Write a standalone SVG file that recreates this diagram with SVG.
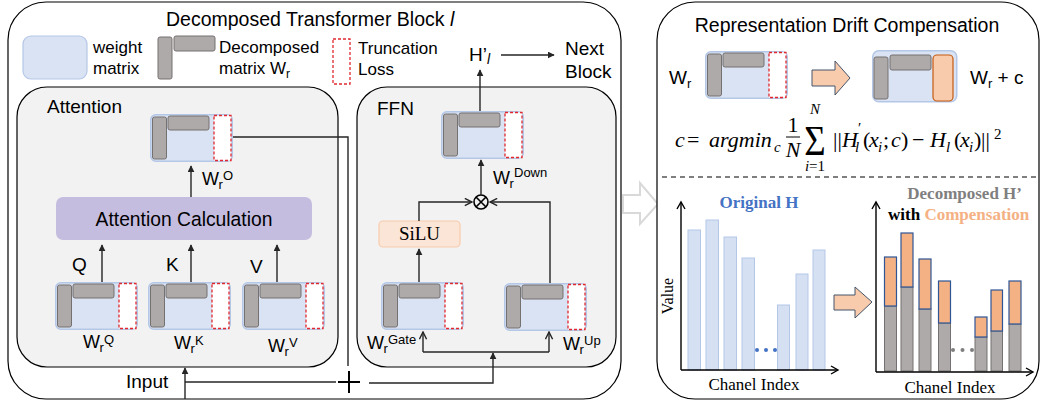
<svg xmlns="http://www.w3.org/2000/svg" width="1040" height="404" viewBox="0 0 1040 404">
<style>
.sans{font-family:"Liberation Sans",Arial,sans-serif;fill:#000}
.serif{font-family:"Liberation Serif","Times New Roman",serif;fill:#000}
.gray{fill:#aeaaaa;stroke:#767171;stroke-width:1}
.blk{fill:#fff;stroke:#000;stroke-width:1.2}
.inner{fill:#f2f2f2;stroke:#000;stroke-width:1.2}
.ln{fill:none;stroke:#262626;stroke-width:1.4}
.arr{marker-end:url(#ah)}
.oarr{marker-end:url(#oh)}
.bbar{fill:#d6e0f3;stroke:#b4c7e7;stroke-width:1}
.gbar{fill:#aeaaaa;stroke:#767171;stroke-width:1}
.obar{fill:#f4b183;stroke:#2f5597;stroke-width:1.2}
.fat{fill:#f8cbad;stroke:#44546a;stroke-width:1}
</style>
<defs>
<marker id="ah" viewBox="0 0 10 10" refX="9" refY="5" markerWidth="7" markerHeight="7" markerUnits="userSpaceOnUse" orient="auto">
<path d="M0,0 L10,5 L0,10 z" fill="#262626"/>
</marker>
<marker id="oh" viewBox="0 0 10 10" refX="9" refY="5" markerWidth="9" markerHeight="9" markerUnits="userSpaceOnUse" orient="auto">
<path d="M1,1 L9,5 L1,9" fill="none" stroke="#262626" stroke-width="1.6"/>
</marker>
<g id="mat">
<rect x="0.75" y="0.75" width="81.5" height="46.5" rx="5" fill="#dae3f3" stroke="#b4c7e7" stroke-width="1.5"/>
<rect x="2.5" y="3" width="14" height="42" rx="2" class="gray"/>
<rect x="18" y="2" width="41" height="14" rx="2" class="gray"/>
<rect x="64" y="1.5" width="17" height="45" fill="#fff" stroke="#e0282e" stroke-width="1.3" stroke-dasharray="3 2"/>
</g>
</defs>

<!-- faint arrow between panels -->
<path d="M623,195 H640 V183 L658,204 L640,224 V213 H623 Z" fill="#fff" stroke="#d9d9d9" stroke-width="2"/>

<g id="block">
<rect x="8" y="2" width="613" height="397" rx="38" class="blk"/>
<text class="sans" x="166" y="26" font-size="19.5">Decomposed Transformer Block <tspan font-style="italic">l</tspan></text>
</g>

<g id="legend">
<rect x="23" y="36" width="64" height="43" rx="8" fill="#dae3f3" stroke="#b4c7e7" stroke-width="1.2"/>
<text class="sans" x="93" y="53" font-size="17">weight</text>
<text class="sans" x="93" y="74" font-size="17">matrix</text>
<rect x="158" y="37" width="14" height="42" rx="2" class="gray"/>
<rect x="174" y="36" width="41" height="15" rx="2" class="gray"/>
<text class="sans" x="219" y="53" font-size="17">Decomposed</text>
<text class="sans" x="219" y="74" font-size="17">matrix W<tspan font-size="12" dy="4">r</tspan></text>
<rect x="333" y="39" width="17" height="45" fill="#fff" stroke="#e0282e" stroke-width="1.3" stroke-dasharray="3 2"/>
<text class="sans" x="358" y="54" font-size="17">Truncation</text>
<text class="sans" x="358" y="75" font-size="17">Loss</text>
</g>

<g id="attention">
<rect x="17" y="87" width="321" height="280" rx="30" class="inner"/>
<text class="sans" x="47" y="113" font-size="19">Attention</text>
</g>

<g id="ffn">
<rect x="357" y="87" width="259" height="280" rx="30" class="inner"/>
<text class="sans" x="377" y="115" font-size="19">FFN</text>
</g>

<g id="attn-calc">
<rect x="56" y="197" width="256" height="43" rx="7" fill="#c5bde0"/>
<text class="sans" x="184" y="226" font-size="19.3" text-anchor="middle">Attention Calculation</text>
</g>

<g id="wo"><use href="#mat" x="150" y="114"/>
<text class="sans" x="202" y="185" font-size="18">W<tspan font-size="13" x="218.5" y="189">r</tspan><tspan font-size="13" x="223" y="180">O</tspan></text></g>
<g id="wq"><use href="#mat" x="55" y="282"/>
<text class="sans" x="83" y="348" font-size="18">W<tspan font-size="13" x="99.5" y="352">r</tspan><tspan font-size="13" x="104" y="344">Q</tspan></text>
<text class="sans" x="72" y="271" font-size="19">Q</text></g>
<g id="wk"><use href="#mat" x="148" y="282"/>
<text class="sans" x="174" y="349" font-size="18">W<tspan font-size="13" x="190.5" y="353">r</tspan><tspan font-size="13" x="195" y="345">K</tspan></text>
<text class="sans" x="166" y="271" font-size="19">K</text></g>
<g id="wv"><use href="#mat" x="242" y="282"/>
<text class="sans" x="268" y="352" font-size="18">W<tspan font-size="13" x="284.5" y="356">r</tspan><tspan font-size="13" x="289" y="347">V</tspan></text>
<text class="sans" x="250" y="273" font-size="19">V</text></g>

<g id="wdown"><use href="#mat" x="441" y="111"/>
<text class="sans" x="493" y="184" font-size="18">W<tspan font-size="13" x="509.5" y="188">r</tspan><tspan font-size="13" x="514" y="177">Down</tspan></text></g>
<g id="wgate"><use href="#mat" x="381" y="282"/>
<text class="sans" x="367" y="349" font-size="18">W<tspan font-size="13" x="383.5" y="353">r</tspan><tspan font-size="13" x="388" y="344">Gate</tspan></text></g>
<g id="wup"><use href="#mat" x="504" y="283"/>
<text class="sans" x="563" y="350" font-size="18">W<tspan font-size="13" x="579.5" y="354">r</tspan><tspan font-size="13" x="584" y="345">Up</tspan></text></g>

<g id="silu">
<rect x="379" y="221" width="81" height="26" rx="4" fill="#fbe5d6" stroke="#f8cbad" stroke-width="1.2"/>
<text class="serif" x="419.5" y="240" font-size="19" text-anchor="middle">SiLU</text>
</g>

<g id="mult">
<circle cx="481" cy="202" r="7" fill="none" stroke="#000" stroke-width="1.6"/>
<path d="M476,197 L486,207 M486,197 L476,207" stroke="#000" stroke-width="1.6"/>
</g>

<g id="plus">
<path d="M338,382 H360 M349,371 V393" stroke="#000" stroke-width="2"/>
</g>

<g id="hout">
<text class="sans" x="469" y="61" font-size="19">H’<tspan font-style="italic" font-size="14" dy="3">l</tspan></text>
<text class="sans" x="565" y="55" font-size="19">Next</text>
<text class="sans" x="565" y="78" font-size="19">Block</text>
</g>

<g id="input">
<text class="sans" x="126" y="388" font-size="19">Input</text>
</g>

<g id="connectors">
<path class="ln" d="M233,137 H348 V366"/>
<path class="ln" d="M336,382 H185"/>
<path class="ln arr" d="M185,399 V368"/>
<path class="ln arr" d="M369,383 H493 V353"/>
<path class="ln" d="M423,352 H549"/>
<path class="ln oarr" d="M423,352 V332"/>
<path class="ln oarr" d="M549,352 V332"/>
<path class="ln arr" d="M102,282 V245"/>
<path class="ln arr" d="M191,282 V245"/>
<path class="ln arr" d="M277,282 V245"/>
<path class="ln arr" d="M191,197 V166"/>
<path class="ln arr" d="M419,282 V249"/>
<path class="ln oarr" d="M419,221 V202 H472"/>
<path class="ln oarr" d="M550,283 V202 H490"/>
<path class="ln arr" d="M481,195 V160"/>
<path class="ln arr" d="M480,111 V70"/>
<path class="ln arr" d="M501,55 H554"/>
</g>

<g id="drift-panel">
<rect x="657" y="2" width="382" height="397" rx="38" class="blk"/>
<text class="sans" x="847" y="32" font-size="19.5" text-anchor="middle">Representation Drift Compensation</text>
<line x1="662" y1="177" x2="1036" y2="177" stroke="#000" stroke-width="1.2" stroke-dasharray="5 4"/>
</g>

<g id="wr-before">
<text class="sans" x="669" y="84" font-size="19">W<tspan font-size="13" dy="4">r</tspan></text>
<use href="#mat" x="705" y="51"/>
</g>
<path class="fat" d="M812,70 H835 V61 L850,78 L835,95 V86 H812 Z"/>
<g id="wr-after">
<rect x="872.75" y="50.75" width="84" height="51" rx="6" fill="#dae3f3" stroke="#b4c7e7" stroke-width="1.5"/>
<rect x="874" y="57" width="14" height="42" rx="2" class="gray"/>
<rect x="890" y="55" width="41" height="15" rx="2" class="gray"/>
<rect x="933" y="55" width="20" height="46" rx="4" fill="#f8cbad" stroke="#c55a11" stroke-width="1.2"/>
<text class="sans" x="970" y="84" font-size="19">W<tspan font-size="13" dy="4">r</tspan><tspan dy="-4"> + c</tspan></text>
</g>

<g id="formula" class="serif" font-size="22">
<text font-style="italic"><tspan x="675" y="147">c</tspan><tspan x="687" y="147" font-style="normal">=</tspan><tspan x="709" y="147">argmin</tspan><tspan x="774" y="152" font-size="15">c</tspan></text>
<text x="793" y="132" text-anchor="middle">1</text>
<line x1="786" y1="137" x2="800" y2="137" stroke="#000" stroke-width="1"/>
<text x="793" y="157" text-anchor="middle" font-style="italic">N</text>
<text transform="translate(815 155) scale(1.15 1.3)" font-size="32" text-anchor="middle">Σ</text>
<text x="815" y="114" font-size="15" text-anchor="middle" font-style="italic">N</text>
<text x="815" y="171" font-size="15" text-anchor="middle"><tspan font-style="italic">i</tspan>=1</text>
<text><tspan x="833" y="147">||</tspan><tspan x="842" y="147" font-style="italic">H</tspan><tspan x="858" y="133" font-size="15">′</tspan><tspan x="855" y="152" font-size="15" font-style="italic">l</tspan><tspan x="863" y="147">(</tspan><tspan x="869" y="147" font-style="italic">x</tspan><tspan x="878" y="152" font-size="15" font-style="italic">i</tspan><tspan x="883" y="147">;</tspan><tspan x="891" y="147" font-style="italic">c</tspan><tspan x="901" y="147">)</tspan><tspan x="912" y="147">−</tspan><tspan x="930" y="147" font-style="italic">H</tspan><tspan x="946" y="152" font-size="15" font-style="italic">l</tspan><tspan x="954" y="147">(</tspan><tspan x="960" y="147" font-style="italic">x</tspan><tspan x="969" y="152" font-size="15" font-style="italic">i</tspan><tspan x="974" y="147">)</tspan><tspan x="981" y="147">||</tspan><tspan x="994" y="139" font-size="15">2</tspan></text>
</g>

<g id="chart-original">
<rect x="688" y="230" width="12.5" height="140" class="bbar"/>
<rect x="706" y="220" width="12.5" height="150" class="bbar"/>
<rect x="724" y="237" width="12.5" height="133" class="bbar"/>
<rect x="742" y="258" width="12.5" height="112" class="bbar"/>
<rect x="777.5" y="305" width="12" height="65" class="bbar"/>
<rect x="796" y="274" width="12" height="96" class="bbar"/>
<rect x="813" y="250" width="12" height="120" class="bbar"/>
<circle cx="757" cy="350" r="2" fill="#4472c4"/>
<circle cx="766" cy="350" r="2" fill="#4472c4"/>
<circle cx="775" cy="350" r="2" fill="#4472c4"/>
<path d="M681,370 V203 M681,370 H837" fill="none" stroke="#000" stroke-width="1.4"/>
<path d="M677,209 L681,202 L685,209 M831,366 L838,370 L831,374" fill="none" stroke="#000" stroke-width="1.4"/>
<text class="serif" x="759" y="208" font-size="17" font-weight="bold" text-anchor="middle" style="fill:#4472c4">Original H</text>
<text class="serif" transform="rotate(-90 673 296)" x="673" y="296" font-size="16" text-anchor="middle">Value</text>
<text class="serif" x="754" y="390" font-size="17" text-anchor="middle">Chanel Index</text>
</g>

<path class="fat" d="M834,295 H855 V287 L872,302 L855,318 V310 H834 Z"/>

<g id="chart-compensated">
<rect x="884.5" y="306" width="12" height="65" class="gbar"/>
<rect x="884.5" y="257" width="12" height="49" class="obar"/>
<rect x="901" y="287" width="12" height="84" class="gbar"/>
<rect x="901" y="233" width="12" height="54" class="obar"/>
<rect x="919" y="309" width="12" height="62" class="gbar"/>
<rect x="919" y="259" width="12" height="50" class="obar"/>
<rect x="938.5" y="323" width="12" height="48" class="gbar"/>
<rect x="938.5" y="281" width="12" height="42" class="obar"/>
<rect x="975" y="337" width="12" height="34" class="gbar"/>
<rect x="975" y="317" width="12" height="20" class="obar"/>
<rect x="991" y="331" width="11.5" height="40" class="gbar"/>
<rect x="991" y="290" width="11.5" height="41" class="obar"/>
<rect x="1009" y="324" width="12" height="47" class="gbar"/>
<rect x="1009" y="281" width="12" height="43" class="obar"/>
<circle cx="953" cy="350" r="2" fill="#7f7f7f"/>
<circle cx="962.5" cy="350" r="2" fill="#7f7f7f"/>
<circle cx="972" cy="350" r="2" fill="#7f7f7f"/>
<path d="M876,372 V203 M876,372 H1032" fill="none" stroke="#000" stroke-width="1.4"/>
<path d="M872,209 L876,202 L880,209 M1026,368 L1033,372 L1026,376" fill="none" stroke="#000" stroke-width="1.4"/>
<text class="serif" x="1022" y="199" font-size="17" font-weight="bold" text-anchor="end" style="fill:#7f7f7f">Decomposed H’</text>
<text class="serif" x="888" y="220" font-size="17" font-weight="bold">with <tspan style="fill:#f4b183">Compensation</tspan></text>
<text class="serif" x="950" y="393" font-size="17" text-anchor="middle">Chanel Index</text>
</g>
</svg>
